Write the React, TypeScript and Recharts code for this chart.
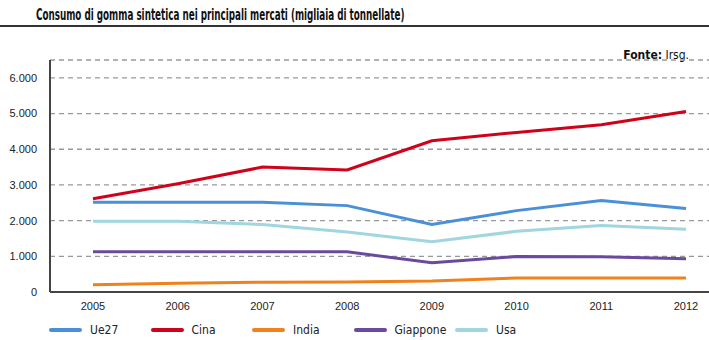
import React from "react";
import { LineChart, Line, XAxis, YAxis, CartesianGrid } from "recharts";

const years = ["2005", "2006", "2007", "2008", "2009", "2010", "2011", "2012"];
const ue27 = [2515, 2515, 2515, 2420, 1890, 2280, 2560, 2340];
const cina = [2610, 3030, 3500, 3420, 4235, 4470, 4685, 5060];
const india = [200, 245, 273, 280, 310, 395, 395, 395];
const giappone = [1127, 1127, 1127, 1127, 817, 995, 986, 930];
const usa = [1980, 1980, 1890, 1680, 1410, 1700, 1860, 1755];
const yTicks = [0, 1000, 2000, 3000, 4000, 5000, 6000];

const series = [
  { key: "Ue27", values: ue27, color: "#4a90d9" },
  { key: "Cina", values: cina, color: "#d0021b" },
  { key: "India", values: india, color: "#f0821e" },
  { key: "Giappone", values: giappone, color: "#6b4a9e" },
  { key: "Usa", values: usa, color: "#9fd6df" },
];

const data = years.map((y, i) => {
  const row: Record<string, number | string> = { year: y };
  series.forEach((s) => (row[s.key] = s.values[i]));
  return row;
});

const fmt = (v: number) => (v === 0 ? "0" : v.toLocaleString("de-DE"));

const narrow = '"Liberation Sans Narrow", "DejaVu Sans Condensed", "Roboto", sans-serif';
const tickFont = '"Liberation Sans", Arial, sans-serif';

export default function App() {
  return (
    <div style={{ position: "absolute", left: 0, top: 0, width: 709, height: 340, background: "#fff", overflow: "hidden" }}>
      <div
        style={{
          position: "absolute",
          left: 36,
          top: 5,
          fontFamily: narrow,
          fontWeight: "bold",
          fontSize: 16,
          color: "#111",
          whiteSpace: "nowrap",
          transform: "scaleX(0.61)",
          transformOrigin: "0 0",
        }}
      >
        Consumo di gomma sintetica nei principali mercati (migliaia di tonnellate)
      </div>
      <div style={{ position: "absolute", left: 0, top: 25, width: 709, height: 2, background: "#333" }} />
      <div style={{ position: "absolute", right: 20, top: 48, fontFamily: narrow, fontSize: 12, color: "#111", whiteSpace: "nowrap" }}>
        <span style={{ fontWeight: "bold" }}>Fonte:</span> Irsg.
      </div>
      <div style={{ position: "absolute", left: 0, top: 0 }}>
        <LineChart width={709} height={340} data={data} margin={{ top: 60, right: 0, bottom: 18, left: 0 }}>
          <CartesianGrid vertical={false} stroke="#999" strokeDasharray="5 4" strokeWidth={1.3} />
          <XAxis
            dataKey="year"
            padding={{ left: 43, right: 23 }}
            height={30}
            axisLine={{ stroke: "#444", strokeWidth: 2 }}
            tickLine={false}
            tickSize={0}
            tickMargin={10}
            tick={{ fontFamily: tickFont, fontSize: 11, fill: "#222" }}
          />
          <YAxis
            width={50}
            domain={[0, 6500]}
            ticks={yTicks}
            tickFormatter={fmt}
            axisLine={{ stroke: "#444", strokeWidth: 2 }}
            tickLine={false}
            tickSize={0}
            tickMargin={13}
            tick={{ fontFamily: tickFont, fontSize: 11, fill: "#222" }}
          />
          {series.map((s) => (
            <Line
              key={s.key}
              dataKey={s.key}
              stroke={s.color}
              strokeWidth={3}
              dot={false}
              isAnimationActive={false}
            />
          ))}
        </LineChart>
      </div>
      {series.map((s, i) => (
        <div key={s.key} style={{ position: "absolute", left: 49 + i * 101.5, top: 323, display: "flex", alignItems: "center", whiteSpace: "nowrap" }}>
          <div style={{ width: 33, height: 4, borderRadius: 2, background: s.color }} />
          <span style={{ marginLeft: 8, fontFamily: narrow, fontSize: 12, color: "#222" }}>{s.key}</span>
        </div>
      ))}
    </div>
  );
}
